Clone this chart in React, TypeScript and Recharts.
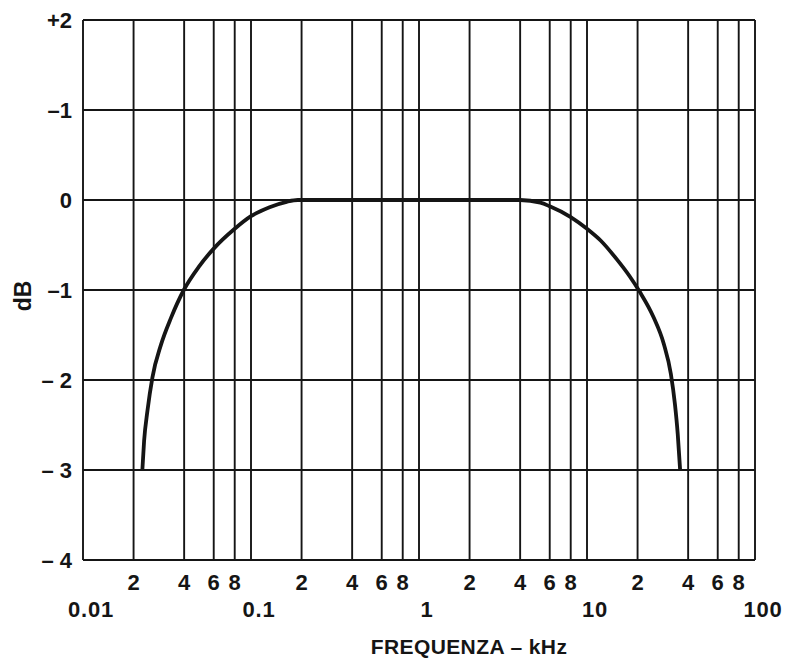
import React from 'react';
import { LineChart, Line, XAxis, YAxis, CartesianGrid } from 'recharts';

// Frequency response (kHz vs dB)
const freqKHz = [
  0.02256, 0.0231, 0.0242, 0.0259, 0.0291, 0.0334, 0.0398, 0.049, 0.06, 0.08, 0.1, 0.129, 0.163, 0.19,
  1, 4,
  5.28, 6, 8, 10, 12.05, 15.06, 17.98, 20.6, 24.86, 28.66, 31.55, 33.38, 34.68, 35.84,
];
const levelDb = [
  -3, -2.68, -2.34, -1.97, -1.61, -1.31, -1, -0.74, -0.54, -0.32, -0.18, -0.08, -0.02, 0,
  0, 0,
  -0.03, -0.07, -0.19, -0.32, -0.45, -0.66, -0.85, -1.02, -1.3, -1.6, -1.93, -2.27, -2.6, -3,
];

const xTicks = [0.01, 0.02, 0.04, 0.06, 0.08, 0.1, 0.2, 0.4, 0.6, 0.8, 1, 2, 4, 6, 8, 10, 20, 40, 60, 80, 100];
const xMinorLabels = ['', '2', '4', '6', '8', '', '2', '4', '6', '8', '', '2', '4', '6', '8', '', '2', '4', '6', '8', ''];
const xDecadeLabels = ['0.01', '', '', '', '', '0.1', '', '', '', '', '1', '', '', '', '', '10', '', '', '', '', '100'];

const yTicks = [2, 1, 0, -1, -2, -3, -4];
const yTickLabels = ['+2', '–1', '0', '–1', '– 2', '– 3', '– 4'];

const xTitle = 'FREQUENZA – kHz';
const yTitle = 'dB';

const data = freqKHz.map((f, i) => ({ f, db: levelDb[i] }));

const FONT = '"Liberation Sans", "DejaVu Sans", sans-serif';
const INK = '#151515';

const XTick = (props: any) => {
  const { x, payload } = props;
  const i = xTicks.indexOf(payload.value);
  const minor = i >= 0 ? xMinorLabels[i] : '';
  const decade = i >= 0 ? xDecadeLabels[i] : '';
  return (
    <g>
      {minor && (
        <text x={x} y={590} textAnchor="middle" fontFamily={FONT} fontWeight="bold" fontSize={22} fill={INK}>
          {minor}
        </text>
      )}
      {decade && (
        <text x={x + 8} y={617} textAnchor="middle" fontFamily={FONT} fontWeight="bold" fontSize={22} letterSpacing={0.8} fill={INK}>
          {decade}
        </text>
      )}
    </g>
  );
};

const YTick = (props: any) => {
  const { y, payload } = props;
  const i = yTicks.indexOf(payload.value);
  return (
    <text x={72} y={y + 8} textAnchor="end" fontFamily={FONT} fontWeight="bold" fontSize={22} fill={INK}>
      {i >= 0 ? yTickLabels[i] : ''}
    </text>
  );
};

export default function App() {
  return (
    <div style={{ position: 'absolute', left: 0, top: 0, width: 785, height: 659, background: '#fff' }}>
      <LineChart width={785} height={659} data={data} margin={{ top: 20, right: 30, left: 0, bottom: 0 }}>
        <CartesianGrid stroke={INK} strokeWidth={1.9} />
        <XAxis
          dataKey="f"
          type="number"
          scale="log"
          domain={[0.01, 100]}
          ticks={xTicks}
          allowDataOverflow
          axisLine={false}
          tickLine={false}
          height={99}
          interval={0}
          tick={<XTick />}
          label={{
            content: () => (
              <text x={469} y={654} textAnchor="middle" fontFamily={FONT} fontWeight="bold" fontSize={21} letterSpacing={0.4} fill={INK}>
                {xTitle}
              </text>
            ),
          }}
        />
        <YAxis
          type="number"
          domain={[-4, 2]}
          ticks={yTicks}
          axisLine={false}
          tickLine={false}
          width={83}
          interval={0}
          tick={<YTick />}
          label={{
            content: () => (
              <text x={31} y={296} transform="rotate(-90 31 296)" textAnchor="middle" fontFamily={FONT} fontWeight="bold" fontSize={23} fill={INK}>
                {yTitle}
              </text>
            ),
          }}
        />
        <Line
          type="monotone"
          dataKey="db"
          stroke={INK}
          strokeWidth={3.8}
          dot={false}
          isAnimationActive={false}
        />
      </LineChart>
    </div>
  );
}
